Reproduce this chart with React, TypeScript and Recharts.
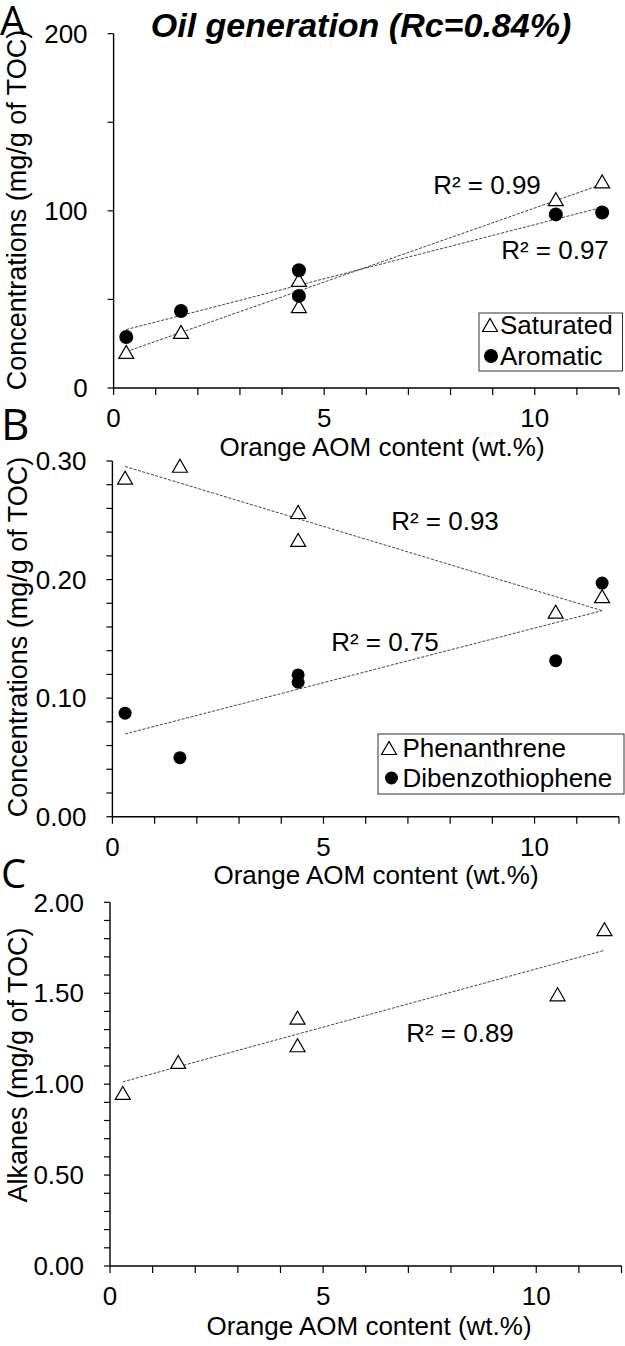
import React from "react";
import { ScatterChart, Scatter, XAxis, YAxis } from "recharts";

// Orange AOM content (wt.%) of the six samples
const aomContent = [0.3, 1.6, 4.4, 4.4, 10.5, 11.6];

// A: bulk fractions (mg/g of TOC)
const saturated = [20.4, 31.7, 61, 46.2, 106.6, 116.6];
const aromatic = [28.8, 43.5, 66.5, 52, 98, 99.1];

// B: aromatic compounds (mg/g of TOC)
const phenanthrene = [0.286, 0.296, 0.257, 0.2335, 0.173, 0.186];
const dibenzothiophene = [0.0873, 0.0498, 0.1196, 0.1134, 0.1316, 0.197];

// C: alkanes (mg/g of TOC)
const alkanes = [0.952, 1.1225, 1.366, 1.214, 1.494, 1.852];

// linear trend lines, read at the two ends
const trendX = [0.3, 11.6];
const saturatedTrend = [20.5, 115];
const aromaticTrend = [33, 102];
const phenanthreneTrend = [0.2954, 0.1738];
const dibenzothiopheneTrend = [0.0698, 0.1738];
const alkanesTrend = [1.0126, 1.736];

const xTicks = [0, 1, 2, 3, 4, 5, 6, 7, 8, 9, 10, 11, 12];
const yTicksA = [0, 50, 100, 150, 200];
const yTicksB = [0, 0.02, 0.04, 0.06, 0.08, 0.1, 0.12, 0.14, 0.16, 0.18, 0.2, 0.22, 0.24, 0.26, 0.28, 0.3];
const yTicksC = [0, 0.1, 0.2, 0.3, 0.4, 0.5, 0.6, 0.7, 0.8, 0.9, 1, 1.1, 1.2, 1.3, 1.4, 1.5, 1.6, 1.7, 1.8, 1.9, 2];

const FONT = "'Liberation Sans', Arial, sans-serif";
const LETTER_FONT = "'Open Sans', 'Liberation Sans', sans-serif";

const pts = (xs: number[], ys: number[]) => xs.map((x, i) => ({ x, y: ys[i] }));

const Triangle = ({ cx, cy }: any) => (
  <path
    d={`M${cx - 7.5},${cy + 6.5} L${cx + 7.5},${cy + 6.5} L${cx},${cy - 6.5} Z`}
    fill="#fff"
    stroke="#000"
    strokeWidth={1.2}
  />
);

const Dot = ({ cx, cy, r = 7 }: any) => <circle cx={cx} cy={cy} r={r} fill="#000" />;

const Empty = () => <g />;

const trendStyle = { stroke: "#444", strokeWidth: 1, strokeDasharray: "3 1.5" };

type Series = { data: { x: number; y: number }[]; kind: "tri" | "dot" | "trend"; r?: number };

function Panel(props: {
  top: number;
  height: number;
  plotTop: number;
  axisHeight: number;
  plotLeft: number;
  plotRight: number;
  yMax: number;
  yTicks: number[];
  yFormat: (v: number) => string;
  series: Series[];
}) {
  const { top, height, plotTop, axisHeight, plotLeft, plotRight, yMax, yTicks, yFormat, series } = props;
  return (
    <div style={{ position: "absolute", left: 0, top }}>
      <ScatterChart
        width={625}
        height={height}
        margin={{ top: plotTop, right: 625 - plotRight, bottom: 0, left: 0 }}
      >
        <XAxis
          type="number"
          dataKey="x"
          domain={[0, 12]}
          ticks={xTicks}
          interval={0}
          height={axisHeight}
          tickSize={7}
          tickMargin={14}
          tickFormatter={(v: number) => (v % 5 === 0 ? String(v) : "")}
          axisLine={{ stroke: "#000", strokeWidth: 1.4 }}
          tickLine={{ stroke: "#000", strokeWidth: 1.2 }}
          tick={{ fill: "#000", fontSize: 26, fontFamily: FONT }}
        />
        <YAxis
          type="number"
          dataKey="y"
          domain={[0, yMax]}
          ticks={yTicks}
          interval={0}
          width={plotLeft}
          tickSize={6}
          tickMargin={20}
          tickFormatter={yFormat}
          axisLine={{ stroke: "#000", strokeWidth: 1.4 }}
          tickLine={{ stroke: "#000", strokeWidth: 1.2 }}
          tick={{ fill: "#000", fontSize: 26, fontFamily: FONT }}
        />
        {series.map((s, i) =>
          s.kind === "trend" ? (
            <Scatter
              key={i}
              data={s.data}
              line={trendStyle}
              lineType="joint"
              shape={Empty}
              isAnimationActive={false}
            />
          ) : (
            <Scatter
              key={i}
              data={s.data}
              shape={s.kind === "tri" ? Triangle : (p: any) => <Dot {...p} r={s.r ?? 7} />}
              isAnimationActive={false}
            />
          )
        )}
      </ScatterChart>
    </div>
  );
}

const xTitle = "Orange AOM content (wt.%)";

export default function App() {
  return (
    <div
      style={{
        position: "absolute",
        left: 0,
        top: 0,
        width: 625,
        height: 1346,
        background: "#fff",
        fontFamily: FONT,
      }}
    >
      <Panel
        top={0}
        height={470}
        plotTop={33.7}
        axisHeight={82}
        plotLeft={113.6}
        plotRight={619}
        yMax={200}
        yTicks={yTicksA}
        yFormat={(v) => (v % 100 === 0 ? String(v) : "")}
        series={[
          { data: pts(trendX, saturatedTrend), kind: "trend" },
          { data: pts(trendX, aromaticTrend), kind: "trend" },
          { data: pts(aomContent, saturated), kind: "tri" },
          { data: pts(aomContent, aromatic), kind: "dot", r: 7 },
        ]}
      />
      <Panel
        top={400}
        height={490}
        plotTop={61}
        axisHeight={73.3}
        plotLeft={112.4}
        plotRight={619}
        yMax={0.3}
        yTicks={yTicksB}
        yFormat={(v) => (Math.abs(v * 10 - Math.round(v * 10)) < 1e-6 ? v.toFixed(2) : "")}
        series={[
          { data: pts(trendX, phenanthreneTrend), kind: "trend" },
          { data: pts(trendX, dibenzothiopheneTrend), kind: "trend" },
          { data: pts(aomContent, phenanthrene), kind: "tri" },
          { data: pts(aomContent, dibenzothiophene), kind: "dot", r: 6.5 },
        ]}
      />
      <Panel
        top={840}
        height={506}
        plotTop={62.3}
        axisHeight={80}
        plotLeft={110}
        plotRight={621.5}
        yMax={2}
        yTicks={yTicksC}
        yFormat={(v) => (Math.abs(v * 2 - Math.round(v * 2)) < 1e-6 ? v.toFixed(2) : "")}
        series={[
          { data: pts(trendX, alkanesTrend), kind: "trend" },
          { data: pts(aomContent, alkanes), kind: "tri" },
        ]}
      />

      {/* panel letters, titles, R² notes and legends */}
      <svg
        width={625}
        height={1346}
        style={{ position: "absolute", left: 0, top: 0, pointerEvents: "none" }}
        fontFamily={FONT}
      >
        <text x={0} y={35} fontSize={40} fontFamily={LETTER_FONT}>A</text>
        <text x={1} y={440} fontSize={44} fontFamily={LETTER_FONT}>B</text>
        <text x={1} y={888} fontSize={40} fontFamily={LETTER_FONT}>C</text>

        <text x={361} y={37} fontSize={34} fontWeight="bold" fontStyle="italic" textAnchor="middle">
          Oil generation (Rc=0.84%)
        </text>

        <text x={382} y={456} fontSize={26} textAnchor="middle">{xTitle}</text>
        <text x={376} y={884} fontSize={26} textAnchor="middle">{xTitle}</text>
        <text x={369} y={1335} fontSize={26} textAnchor="middle">{xTitle}</text>

        <text transform="translate(26,210) rotate(-90)" fontSize={27} textAnchor="middle">
          Concentrations (mg/g of TOC)
        </text>
        <text transform="translate(27,637) rotate(-90)" fontSize={27} textAnchor="middle">
          Concentrations (mg/g of TOC)
        </text>
        <text transform="translate(27,1065) rotate(-90)" fontSize={27} textAnchor="middle">
          Alkanes (mg/g of TOC)
        </text>

        <text x={487} y={194} fontSize={26} textAnchor="middle">R² = 0.99</text>
        <text x={555} y={259} fontSize={26} textAnchor="middle">R² = 0.97</text>
        <text x={445} y={530} fontSize={26} textAnchor="middle">R² = 0.93</text>
        <text x={385} y={651} fontSize={26} textAnchor="middle">R² = 0.75</text>
        <text x={460} y={1042} fontSize={26} textAnchor="middle">R² = 0.89</text>

        <rect x={479} y={313} width={143.5} height={58} fill="#fff" stroke="#333" strokeWidth={1} />
        <Triangle cx={490} cy={325} />
        <text x={500} y={334} fontSize={26}>Saturated</text>
        <Dot cx={491} cy={356} r={7} />
        <text x={500} y={365} fontSize={26}>Aromatic</text>

        <rect x={378} y={734} width={246} height={60} fill="#fff" stroke="#333" strokeWidth={1} />
        <Triangle cx={389} cy={748} />
        <text x={402.5} y={757} fontSize={26}>Phenanthrene</text>
        <Dot cx={391.5} cy={778} r={6.5} />
        <text x={402.5} y={787} fontSize={26}>Dibenzothiophene</text>
      </svg>
    </div>
  );
}
